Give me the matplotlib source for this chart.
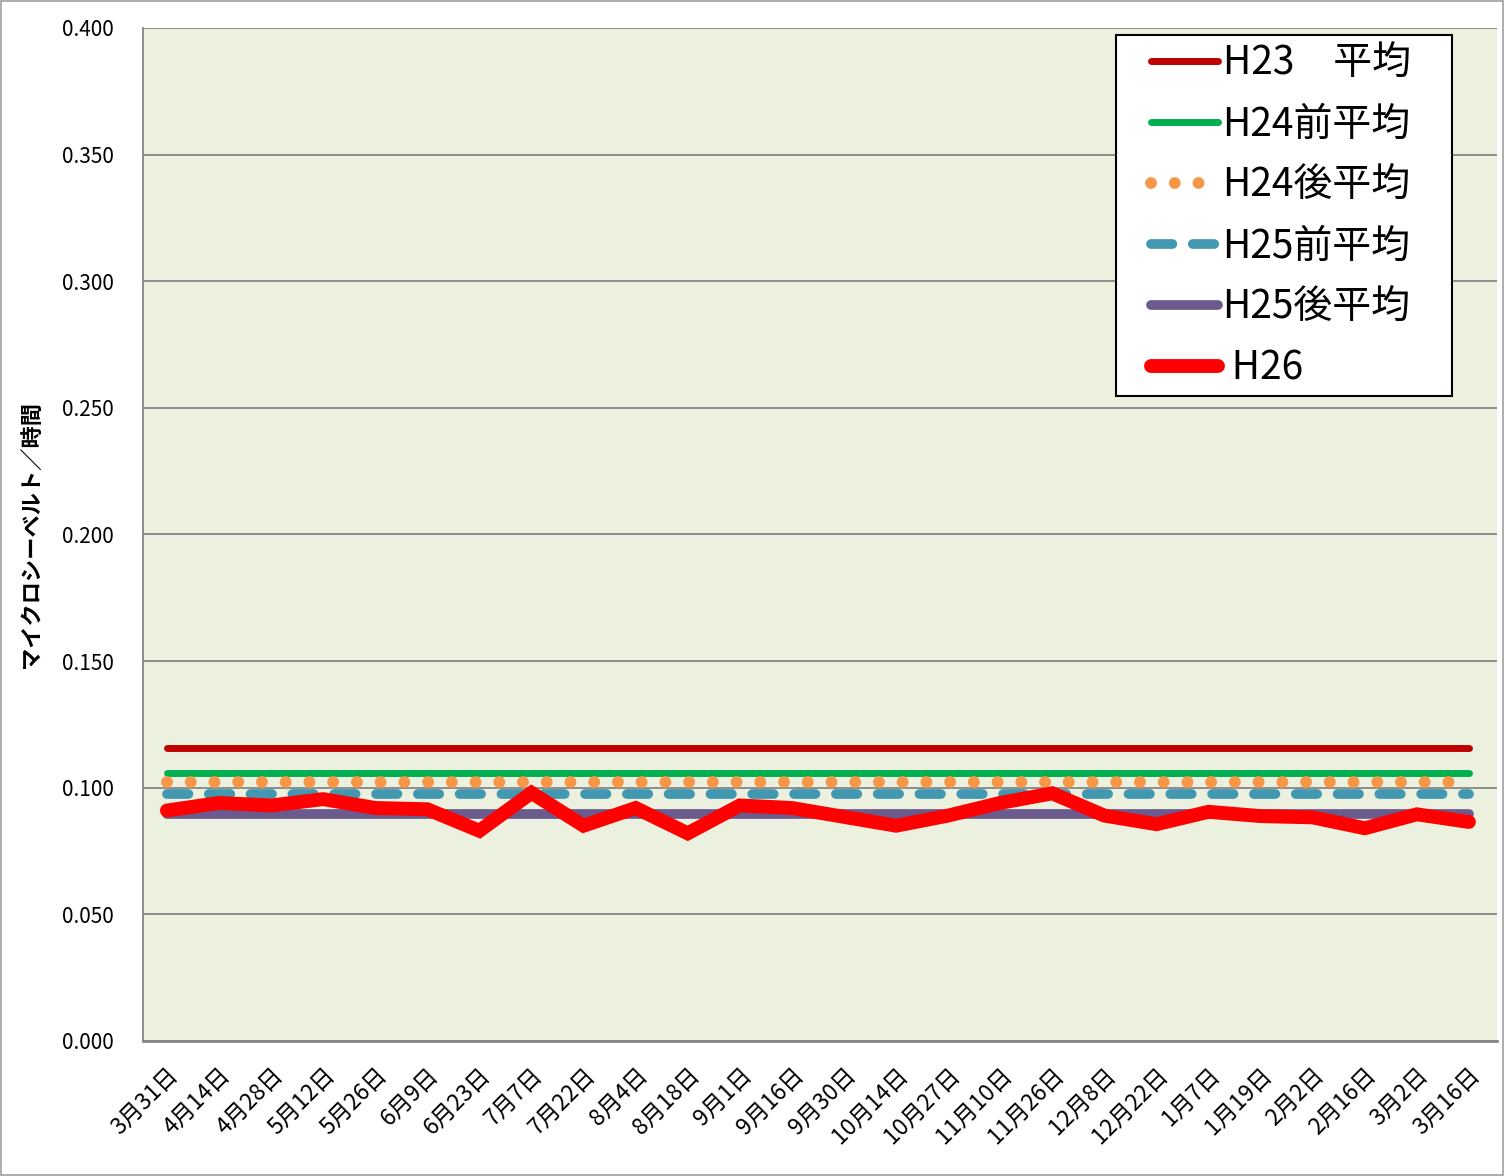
import matplotlib.pyplot as plt
from matplotlib.patches import Rectangle

plt.rcParams['font.family'] = ['Noto Sans CJK JP', 'DejaVu Sans']

# データ
dates = ["3月31日", "4月14日", "4月28日", "5月12日", "5月26日", "6月9日", "6月23日",
         "7月7日", "7月22日", "8月4日", "8月18日", "9月1日", "9月16日", "9月30日",
         "10月14日", "10月27日", "11月10日", "11月26日", "12月8日", "12月22日",
         "1月7日", "1月19日", "2月2日", "2月16日", "3月2日", "3月16日"]
h26 = [0.091, 0.094, 0.093, 0.0955, 0.092, 0.0915, 0.083, 0.098, 0.085, 0.092,
       0.082, 0.093, 0.092, 0.0885, 0.085, 0.089, 0.094, 0.0978, 0.089, 0.0856,
       0.0905, 0.0888, 0.0883, 0.084, 0.0895, 0.0865]
h23_avg = 0.1156
h24a_avg = 0.1060
h24b_avg = 0.1022
h25a_avg = 0.0974
h25b_avg = 0.0896

x = list(range(len(dates)))
n = len(dates)

fig = plt.figure(figsize=(15.05, 11.76), dpi=100)
ax = fig.add_axes([0.095, 0.1148, 0.8997, 0.8614])
ax.set_facecolor("#EBF1DE")

ax.plot(x, [h23_avg] * n, color="#C00000", lw=5, solid_capstyle="round", label="H23　平均")
ax.plot(x, [h24a_avg] * n, color="#00B050", lw=5, solid_capstyle="round", label="H24前平均")
ax.plot(x, [h24b_avg] * n, color="#F79646", lw=8.5, dashes=(0.01, 2.0),
        dash_capstyle="round", label="H24後平均")
ax.plot(x, [h25a_avg] * n, color="#4198B0", lw=7, dashes=(2.2, 2.1),
        dash_capstyle="round", label="H25前平均")
ax.plot(x, [h25b_avg] * n, color="#6B5A8E", lw=7, solid_capstyle="round", label="H25後平均")
ax.plot(x, h26, color="#FF0000", lw=10, solid_capstyle="round",
        solid_joinstyle="miter", label=" H26")

ax.set_xlim(-0.46, n - 0.46)
ax.set_ylim(0, 0.4)
ax.set_yticks([i * 0.05 for i in range(9)])
ax.set_yticklabels([f"{i * 0.05:.3f}" for i in range(9)], fontsize=15)
ax.set_xticks(x)
ax.set_xticklabels(dates, rotation=45, ha="right", rotation_mode="anchor", fontsize=16.5)
ax.tick_params(axis="x", length=0, pad=16)
ax.tick_params(axis="y", length=0, pad=21)
ax.yaxis.grid(True, color="#868686", lw=1.3)
ax.set_axisbelow(True)
for s in ["top", "right"]:
    ax.spines[s].set_visible(False)
ax.spines["left"].set_color("#868686")
ax.spines["bottom"].set_color("#868686")
ax.spines["left"].set_linewidth(1.3)
ax.spines["bottom"].set_linewidth(2)

ax.set_ylabel("マイクロシーベルト／時間", fontsize=16, fontweight="bold", labelpad=14)

# 凡例
ax.add_patch(Rectangle((1116 / 1505, 1 - 396 / 1176), 336 / 1505, 361 / 1176,
                       transform=fig.transFigure, facecolor="white", edgecolor="black",
                       lw=1.5, zorder=4, clip_on=False))
leg = ax.legend(loc="upper left", bbox_to_anchor=(1151 / 1505, 1 - 44 / 1176),
                bbox_transform=fig.transFigure, borderaxespad=0, borderpad=0,
                fontsize=28, handlelength=1.72, handletextpad=0.12, labelspacing=0.54,
                frameon=False)
leg.set_zorder(5)

fig.patches.append(Rectangle((0.0005, 0.001), 0.998, 0.998, transform=fig.transFigure,
                             fill=False, edgecolor="#A0A0A0", lw=1.2))

plt.savefig("out.png", dpi=100)
